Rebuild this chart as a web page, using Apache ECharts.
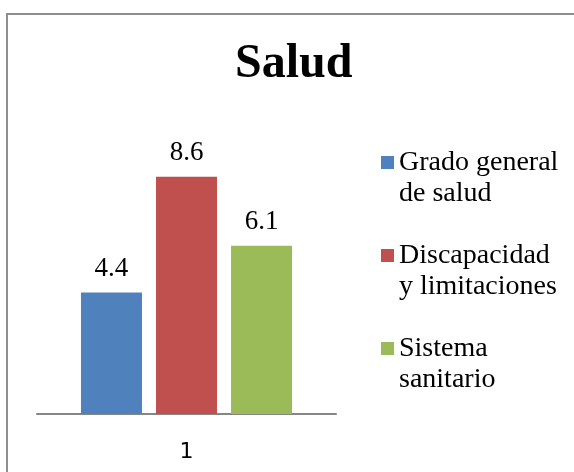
<!DOCTYPE html>
<html>
<head>
<meta charset="utf-8">
<script src="https://cdn.jsdelivr.net/npm/echarts@6/dist/echarts.min.js"></script>
<style>
  html, body { margin: 0; padding: 0; background: #fff; }
  #chart { width: 574px; height: 472px; }
</style>
</head>
<body>
<div id="chart"></div>
<script>
var categories = ['1'];
var seriesNames = ['Grado general de salud', 'Discapacidad y limitaciones', 'Sistema sanitario'];
var legendLabels = ['Grado general\nde salud', 'Discapacidad\ny limitaciones', 'Sistema\nsanitario'];
var seriesValues = [[4.4], [8.6], [6.1]];
var seriesColors = ['#4F81BD', '#C0504D', '#9BBB59'];

var serif = '"Liberation Serif", "Times New Roman", serif';

var myChart = echarts.init(document.getElementById('chart'));

var series = seriesNames.map(function (name, i) {
    return {
        name: name,
        type: 'bar',
        data: seriesValues[i],
        barWidth: 61,
        barGap: '23%',
        itemStyle: { color: seriesColors[i] },
        label: {
            show: true,
            position: 'top',
            distance: 10,
            color: '#000',
            fontFamily: serif,
            fontSize: 27
        }
    };
});

var option = {
    animation: false,
    backgroundColor: '#fff',
    graphic: [{
        type: 'rect',
        shape: { x: 7, y: 14, width: 620, height: 520 },
        style: { fill: 'none', stroke: '#8e8e8e', lineWidth: 2 },
        z: 100
    }],
    title: {
        text: 'Salud',
        left: 235,
        top: 41,
        padding: 0,
        textStyle: {
            fontFamily: serif,
            fontWeight: 'bold',
            fontSize: 48,
            color: '#000'
        }
    },
    legend: {
        orient: 'vertical',
        left: 381,
        top: 116,
        padding: 0,
        itemGap: 0,
        itemWidth: 13,
        itemHeight: 13,
        icon: 'rect',
        data: seriesNames,
        formatter: function (name) {
            return '\n' + legendLabels[seriesNames.indexOf(name)];
        },
        textStyle: {
            fontFamily: serif,
            fontSize: 28,
            lineHeight: 31,
            color: '#000'
        }
    },
    grid: {
        left: 37,
        width: 299,
        top: 138,
        height: 276
    },
    xAxis: {
        type: 'category',
        data: categories,
        axisLine: { lineStyle: { color: '#868686', width: 2 } },
        axisTick: { show: false },
        axisLabel: {
            margin: 27,
            color: '#000',
            fontFamily: '"DejaVu Sans", sans-serif',
            fontSize: 22
        }
    },
    yAxis: {
        type: 'value',
        min: 0,
        max: 10,
        show: false,
        splitLine: { show: false }
    },
    series: series
};

myChart.setOption(option);
</script>
</body>
</html>
